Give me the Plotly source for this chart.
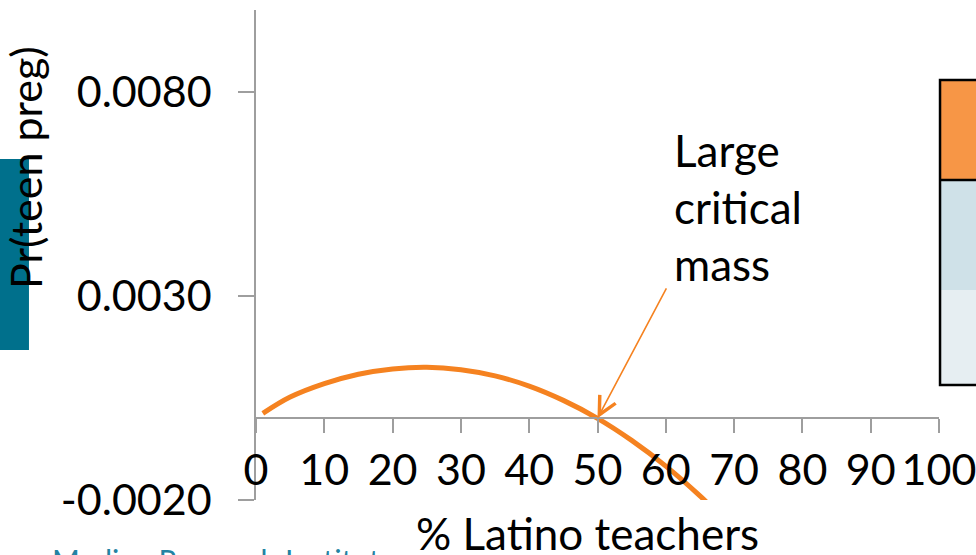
import plotly.graph_objects as go

# Predicted probability of teen pregnancy by share of Latino teachers
pct_latino = [1, 5, 10, 15, 20, 25, 30, 35, 40, 45, 50, 55, 60, 65, 70]
pr_teen_preg = [0.00012, 0.00052, 0.00085, 0.00108, 0.00121, 0.00125, 0.00119,
                0.00104, 0.00079, 0.00044, 0.0, -0.00054, -0.00117, -0.00190, -0.00272]

x_ticks = [0, 10, 20, 30, 40, 50, 60, 70, 80, 90, 100]
y_ticks = [-0.0020, 0.0030, 0.0080]
y_tick_text = ["-0.0020", "0.0030", "0.0080"]

critical_mass_x = 50
critical_mass_y = 0.0

FONT = "Lato"
ORANGE = "#F58220"
AXIS_GRAY = "#9E9E9E"
TEAL = "#00708C"

fig = go.Figure()

fig.add_trace(go.Scatter(
    x=pct_latino, y=pr_teen_preg, mode="lines",
    line=dict(color=ORANGE, width=5, shape="spline"),
    hoverinfo="skip", showlegend=False,
))

# Side bar behind the y-axis title
fig.add_shape(type="rect", xref="paper", yref="paper",
              x0=-0.40, x1=-0.3324, y0=0.3061, y1=0.6959,
              fillcolor=TEAL, line_width=0, layer="below")

# Legend-style block on the right edge
fig.add_shape(type="rect", xref="paper", yref="paper",
              x0=1.0015, x1=1.2, y0=0.653, y1=0.857,
              fillcolor="#F79646", line_width=0)
fig.add_shape(type="rect", xref="paper", yref="paper",
              x0=1.0015, x1=1.2, y0=0.4286, y1=0.653,
              fillcolor="#CFE1E8", line_width=0)
fig.add_shape(type="rect", xref="paper", yref="paper",
              x0=1.0015, x1=1.2, y0=0.2347, y1=0.4286,
              fillcolor="#E6EEF2", line_width=0)
fig.add_shape(type="rect", xref="paper", yref="paper",
              x0=1.0015, x1=1.2, y0=0.2347, y1=0.857,
              fillcolor="rgba(0,0,0,0)", line=dict(color="black", width=2.5))
fig.add_shape(type="line", xref="paper", yref="paper",
              x0=1.0015, x1=1.2, y0=0.653, y1=0.653,
              line=dict(color="black", width=2.5))

# Footer credit
fig.add_annotation(text="Medina Research Institute", xref="paper", yref="paper",
                   x=-0.3016, y=-0.0816, xanchor="left", yanchor="top",
                   showarrow=False, font=dict(family=FONT, size=30, color="#2383A3"))

# Axis titles
fig.add_annotation(text="% Latino teachers", xref="paper", yref="paper",
                   x=0.486, y=-0.0675, xanchor="center", yanchor="middle",
                   showarrow=False, bgcolor="white",
                   font=dict(family=FONT, size=44, color="black"))
fig.add_annotation(text="Pr(teen preg)", xref="paper", yref="paper",
                   x=-0.3367, y=0.6776, xanchor="center", yanchor="middle",
                   textangle=-90, showarrow=False,
                   font=dict(family=FONT, size=43, color="black"))

# Callout
fig.add_annotation(text="Large<br>critical<br>mass", xref="x", yref="y",
                   x=60.9, y=0.00518, xanchor="left", yanchor="middle",
                   align="left", showarrow=False,
                   font=dict(family=FONT, size=44, color="black"))
fig.add_annotation(text="", xref="x", yref="y", axref="x", ayref="y",
                   x=critical_mass_x, y=critical_mass_y, ax=60.2, ay=0.00322,
                   showarrow=True, arrowhead=5, arrowsize=2.2, arrowwidth=1.6,
                   arrowcolor=ORANGE, standoff=0)

fig.update_xaxes(
    range=[0, 100], tickvals=x_ticks, ticktext=[str(v) for v in x_ticks],
    anchor="free", position=1 / 6, automargin=False, ticklabeloverflow="allow",
    showline=True, linecolor=AXIS_GRAY, linewidth=1.5,
    ticks="outside", ticklen=14, tickwidth=1.5, tickcolor=AXIS_GRAY,
    ticklabelstandoff=0, showgrid=False, zeroline=False,
    tickfont=dict(family=FONT, size=43, color="black"),
)
fig.update_yaxes(
    range=[-0.002, 0.010], tickvals=y_ticks, ticktext=y_tick_text,
    automargin=False, ticklabeloverflow="allow",
    showline=True, linecolor=AXIS_GRAY, linewidth=1.5,
    ticks="outside", ticklen=16, tickwidth=1.5, tickcolor=AXIS_GRAY,
    ticklabelstandoff=18, showgrid=False, zeroline=False,
    tickfont=dict(family=FONT, size=43, color="black"),
)

fig.update_layout(
    width=976, height=555,
    margin=dict(l=256, r=37, t=10, b=55),
    paper_bgcolor="white", plot_bgcolor="white",
    showlegend=False,
)

fig.write_html("out.html")
